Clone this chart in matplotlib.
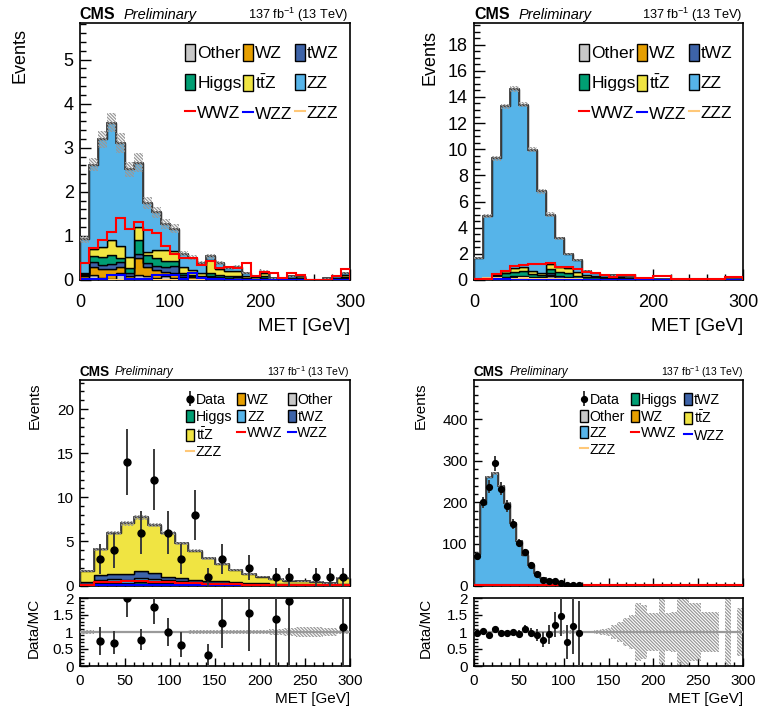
import numpy as np
import matplotlib
matplotlib.use("Agg")
import matplotlib.pyplot as plt
from matplotlib.patches import Patch
from matplotlib.lines import Line2D
from matplotlib.ticker import MultipleLocator, FormatStrFormatter

plt.rcParams['font.family'] = ['Liberation Sans', 'DejaVu Sans']
plt.rcParams['mathtext.fontset'] = 'custom'
plt.rcParams['mathtext.rm'] = 'Liberation Sans'
plt.rcParams['mathtext.it'] = 'Liberation Sans:italic'
plt.rcParams['mathtext.bf'] = 'Liberation Sans:bold'
plt.rcParams['hatch.linewidth'] = 0.9
plt.rcParams['hatch.color'] = '#999999'

# ---------------- data: top-left (10 GeV bins) ----------------
tl_other = [0.00, 0.12, 0.05, 0.03, 0.15, 0.03, 0.12, 0.10, 0.05, 0.10, 0.05, 0.02, 0.01, 0.00, 0.01,
            0.00, 0.00, 0.00, 0.00, 0.00, 0.00, 0.00, 0.00, 0.00, 0.00, 0.00, 0.00, 0.00, 0.00, 0.00]
tl_wz = [0.10, 0.18, 0.20, 0.22, 0.15, 0.07, 0.37, 0.20, 0.18, 0.09, 0.10, 0.05, 0.05, 0.04, 0.05,
         0.04, 0.03, 0.03, 0.02, 0.01, 0.02, 0.00, 0.01, 0.01, 0.02, 0.00, 0.00, 0.00, 0.01, 0.02]
tl_twz = [0.02, 0.10, 0.10, 0.12, 0.10, 0.05, 0.11, 0.08, 0.08, 0.11, 0.17, 0.05, 0.04, 0.03, 0.04,
          0.03, 0.02, 0.03, 0.01, 0.01, 0.03, 0.01, 0.01, 0.01, 0.02, 0.00, 0.00, 0.01, 0.01, 0.02]
tl_higgs = [0.01, 0.15, 0.17, 0.20, 0.10, 0.13, 0.31, 0.19, 0.18, 0.12, 0.10, 0.03, 0.02, 0.02, 0.05,
            0.04, 0.05, 0.04, 0.02, 0.01, 0.05, 0.00, 0.00, 0.01, 0.01, 0.00, 0.00, 0.00, 0.01, 0.02]
tl_ttz = [0.02, 0.15, 0.23, 0.33, 0.28, 0.25, 0.29, 0.07, 0.20, 0.25, 0.24, 0.15, 0.10, 0.06, 0.30,
          0.15, 0.10, 0.10, 0.03, 0.03, 0.05, 0.02, 0.01, 0.02, 0.03, 0.01, 0.01, 0.02, 0.02, 0.06]
tl_zz = [0.77, 1.92, 2.44, 2.67, 2.33, 1.98, 1.46, 1.10, 0.85, 0.60, 0.50, 0.30, 0.29, 0.23, 0.09,
         0.12, 0.08, 0.10, 0.07, 0.04, 0.04, 0.01, 0.02, 0.03, 0.02, 0.00, 0.00, 0.01, 0.03, 0.04]
tl_wwz = [0.39, 0.73, 0.91, 1.10, 1.40, 1.15, 1.32, 1.13, 1.06, 0.76, 0.60, 0.51, 0.49, 0.34, 0.42,
          0.28, 0.30, 0.27, 0.38, 0.08, 0.19, 0.17, 0.05, 0.17, 0.12, 0.01, 0.01, 0.01, 0.09, 0.25]
tl_wzz = [0.03, 0.03, 0.03, 0.11, 0.11, 0.03, 0.03, 0.03, 0.12, 0.12, 0.12, 0.02, 0.17, 0.05, 0.02,
          0.02, 0.01, 0.01, 0.01, 0.00, 0.01, 0.00, 0.00, 0.00, 0.00, 0.00, 0.00, 0.00, 0.00, 0.01]
tl_zzz = [0.01, 0.01, 0.01, 0.01, 0.01, 0.01, 0.01, 0.01, 0.01, 0.01, 0.01, 0.01, 0.01, 0.01, 0.01,
          0.01, 0.01, 0.00, 0.00, 0.00, 0.00, 0.00, 0.00, 0.00, 0.00, 0.00, 0.00, 0.00, 0.00, 0.00]
tl_rel = [0.08, 0.06, 0.06, 0.06, 0.07, 0.07, 0.08, 0.08, 0.08, 0.09, 0.09, 0.10, 0.10, 0.12, 0.10,
          0.12, 0.12, 0.12, 0.15, 0.18, 0.15, 0.25, 0.25, 0.20, 0.20, 0.40, 0.40, 0.30, 0.20, 0.15]

# ---------------- data: top-right (10 GeV bins) ----------------
tr_other = [0.00, 0.01, 0.02, 0.03, 0.03, 0.05, 0.05, 0.04, 0.30, 0.05, 0.03, 0.02, 0.01, 0.01, 0.01,
            0.01, 0.01, 0.00, 0.00, 0.00, 0.00, 0.00, 0.00, 0.00, 0.00, 0.00, 0.00, 0.00, 0.00, 0.00]
tr_wz = [0.08, 0.10, 0.08, 0.10, 0.20, 0.15, 0.10, 0.10, 0.12, 0.10, 0.10, 0.08, 0.05, 0.05, 0.05,
         0.04, 0.04, 0.03, 0.02, 0.02, 0.01, 0.01, 0.01, 0.01, 0.01, 0.01, 0.01, 0.01, 0.01, 0.01]
tr_twz = [0.00, 0.01, 0.05, 0.09, 0.07, 0.07, 0.07, 0.07, 0.10, 0.12, 0.07, 0.04, 0.05, 0.04, 0.04,
          0.05, 0.03, 0.03, 0.02, 0.02, 0.02, 0.01, 0.01, 0.01, 0.01, 0.01, 0.01, 0.01, 0.01, 0.02]
tr_higgs = [0.01, 0.02, 0.18, 0.35, 0.30, 0.40, 0.25, 0.15, 0.30, 0.35, 0.30, 0.20, 0.12, 0.10, 0.08,
            0.08, 0.07, 0.05, 0.03, 0.02, 0.01, 0.01, 0.01, 0.01, 0.01, 0.00, 0.00, 0.00, 0.01, 0.01]
tr_ttz = [0.01, 0.01, 0.05, 0.15, 0.30, 0.30, 0.25, 0.20, 0.40, 0.40, 0.40, 0.30, 0.15, 0.10, 0.07,
          0.07, 0.05, 0.04, 0.03, 0.02, 0.02, 0.02, 0.01, 0.01, 0.01, 0.01, 0.01, 0.01, 0.01, 0.02]
tr_zz = [1.56, 4.75, 8.94, 12.56, 13.70, 12.43, 9.24, 6.21, 3.76, 2.17, 1.09, 0.89, 0.33, 0.21, 0.13,
         0.13, 0.11, 0.07, 0.04, 0.02, 0.03, 0.02, 0.02, 0.02, 0.01, 0.01, 0.01, 0.01, 0.02, 0.03]
tr_wwz = [0.05, 0.10, 0.46, 0.72, 1.07, 1.15, 1.20, 1.20, 1.28, 1.02, 1.02, 0.82, 0.64, 0.51, 0.38,
          0.25, 0.38, 0.38, 0.18, 0.18, 0.28, 0.28, 0.10, 0.10, 0.08, 0.06, 0.06, 0.06, 0.20, 0.25]
tr_wzz = [0.00, 0.05, 0.08, 0.05, 0.03, 0.02, 0.03, 0.02, 0.03, 0.02, 0.02, 0.01, 0.01, 0.01, 0.00,
          0.00, 0.00, 0.00, 0.00, 0.00, 0.00, 0.00, 0.00, 0.00, 0.00, 0.00, 0.00, 0.00, 0.00, 0.00]
tr_zzz = [0.10, 0.15, 0.12, 0.10, 0.10, 0.12, 0.10, 0.08, 0.08, 0.06, 0.05, 0.05, 0.03, 0.03, 0.02,
          0.02, 0.02, 0.01, 0.01, 0.01, 0.01, 0.01, 0.01, 0.01, 0.01, 0.01, 0.01, 0.01, 0.01, 0.01]
tr_rel = [0.04, 0.03, 0.02, 0.015, 0.015, 0.015, 0.02, 0.025, 0.04, 0.04, 0.05, 0.05, 0.08, 0.10, 0.10,
          0.10, 0.10, 0.12, 0.15, 0.15, 0.15, 0.20, 0.20, 0.20, 0.20, 0.25, 0.25, 0.25, 0.20, 0.20]

# ---------------- data: bottom-left (15 GeV bins) ----------------
bl_wz = [0.03, 0.08, 0.10, 0.10, 0.12, 0.10, 0.08, 0.07, 0.05, 0.04,
         0.03, 0.03, 0.02, 0.02, 0.01, 0.01, 0.01, 0.01, 0.00, 0.01]
bl_other = [0.02, 0.05, 0.06, 0.05, 0.07, 0.06, 0.05, 0.04, 0.03, 0.03,
            0.02, 0.02, 0.01, 0.01, 0.01, 0.01, 0.01, 0.00, 0.00, 0.01]
bl_higgs = [0.05, 0.12, 0.14, 0.13, 0.16, 0.14, 0.12, 0.10, 0.08, 0.06,
            0.05, 0.04, 0.03, 0.03, 0.02, 0.02, 0.01, 0.01, 0.01, 0.02]
bl_zz = [0.10, 0.35, 0.45, 0.40, 0.55, 0.42, 0.35, 0.28, 0.22, 0.17,
         0.13, 0.10, 0.06, 0.05, 0.03, 0.03, 0.02, 0.02, 0.01, 0.02]
bl_twz = [0.22, 0.57, 0.61, 0.68, 0.76, 0.72, 0.38, 0.38, 0.30, 0.26,
          0.26, 0.19, 0.18, 0.15, 0.13, 0.10, 0.08, 0.06, 0.04, 0.06]
bl_ttz = [1.21, 2.92, 4.55, 5.69, 6.07, 5.42, 5.00, 3.90, 3.26, 2.51,
          1.90, 1.36, 0.99, 0.72, 0.53, 0.35, 0.36, 0.32, 0.17, 0.75]
bl_wwz = [0.05, 0.45, 0.45, 0.47, 0.53, 0.45, 0.35, 0.30, 0.25, 0.20,
          0.15, 0.12, 0.10, 0.08, 0.06, 0.05, 0.04, 0.03, 0.02, 0.06]
bl_wzz = [0.01, 0.05, 0.06, 0.07, 0.07, 0.06, 0.05, 0.04, 0.03, 0.03,
          0.02, 0.02, 0.01, 0.01, 0.01, 0.01, 0.00, 0.00, 0.00, 0.01]
bl_zzz = [0.01, 0.02, 0.02, 0.02, 0.02, 0.02, 0.01, 0.01, 0.01, 0.01,
          0.01, 0.01, 0.00, 0.00, 0.00, 0.00, 0.00, 0.00, 0.00, 0.00]
bl_data = [0, 3, 4, 14, 6, 12, 6, 3, 8, 1, 3, 0, 2, 0, 1, 1, 0, 1, 1, 1]
bl_rel = [0.05, 0.04, 0.04, 0.04, 0.04, 0.04, 0.04, 0.04, 0.05, 0.05,
          0.05, 0.06, 0.06, 0.07, 0.10, 0.12, 0.15, 0.15, 0.12, 0.05]

# ---------------- data: bottom-right (45 bins) ----------------
br_higgs = [0.1, 0.3, 0.4, 0.4, 0.4, 0.3, 0.3, 0.2, 0.2, 0.15, 0.1, 0.1, 0.08, 0.05, 0.04, 0.03, 0.02, 0.02] + [0.0] * 27
br_twz = [0.02, 0.05, 0.06, 0.06, 0.06, 0.05, 0.04, 0.04, 0.03, 0.03, 0.02, 0.02, 0.02, 0.01, 0.01, 0.01, 0.01, 0.01] + [0.0] * 27
br_other = [0.2, 0.5, 0.6, 0.6, 0.5, 0.4, 0.3, 0.25, 0.2, 0.15, 0.1, 0.08, 0.06, 0.05, 0.04, 0.03, 0.02, 0.02] + [0.0] * 27
br_wz = [0.3, 0.8, 0.9, 0.9, 0.8, 0.6, 0.5, 0.4, 0.3, 0.2, 0.15, 0.1, 0.08, 0.06, 0.05, 0.04, 0.03, 0.02,
         0.02, 0.02, 0.01, 0.01, 0.01, 0.01, 0.01, 0.0, 0.0, 0.0, 0.0, 0.0, 0.0, 0.0, 0.0, 0.0, 0.0, 0.0,
         0.0, 0.0, 0.0, 0.0, 0.0, 0.0, 0.0, 0.0, 0.0]
br_ttz = [0.05, 0.10, 0.15, 0.15, 0.15, 0.15, 0.15, 0.12, 0.12, 0.10, 0.10, 0.08, 0.08, 0.07, 0.06, 0.05, 0.05, 0.04,
          0.04, 0.03, 0.03, 0.03, 0.02, 0.02, 0.02, 0.02, 0.01, 0.01, 0.01, 0.01, 0.01, 0.01, 0.01, 0.01, 0.01, 0.01,
          0.01, 0.01, 0.01, 0.01, 0.01, 0.0, 0.01, 0.0, 0.01]
br_zz = [74.3, 194.3, 259.9, 267.9, 238.1, 196.5, 148.7, 107.0, 73.2, 49.4, 30.5, 17.6, 12.6, 8.8, 3.85, 2.64, 1.57, 0.93,
         0.55, 0.40, 0.30, 0.25, 0.18, 0.12, 0.09, 0.07, 0.05, 0.03, 0.03, 0.03, 0.03, 0.01, 0.02, 0.02, 0.01, 0.01,
         0.02, 0.01, 0.01, 0.01, 0.01, 0.0, 0.01, 0.0, 0.01]
br_wwz = [0.3, 0.8, 1.0, 1.2, 1.2, 1.3, 1.2, 1.1, 1.0, 0.9, 0.8, 0.7, 0.6, 0.5, 0.5, 0.4, 0.4, 0.3,
          0.3, 0.3, 0.25, 0.25, 0.2, 0.2, 0.2, 0.15, 0.15, 0.15, 0.1, 0.1, 0.1, 0.1, 0.1, 0.08, 0.08, 0.08,
          0.06, 0.06, 0.06, 0.05, 0.05, 0.05, 0.05, 0.05, 0.05]
br_wzz = [0.05, 0.1, 0.15, 0.15, 0.15, 0.12, 0.1, 0.08, 0.06, 0.05, 0.04, 0.03, 0.02, 0.02, 0.01, 0.01, 0.01, 0.01] + [0.0] * 27
br_zzz = [0.2, 0.5, 0.6, 0.6, 0.6, 0.5, 0.5, 0.4, 0.4, 0.3, 0.3, 0.25, 0.2, 0.2, 0.15, 0.15, 0.1, 0.1,
          0.1, 0.1, 0.08, 0.08, 0.06, 0.06, 0.05, 0.05, 0.05, 0.04, 0.04, 0.04, 0.03, 0.03, 0.03, 0.03, 0.02, 0.02,
          0.02, 0.02, 0.02, 0.02, 0.02, 0.02, 0.02, 0.02, 0.02]
br_data = [72, 200, 238, 294, 233, 192, 148, 103, 80, 49, 28, 14, 12, 11, 6, 2, 2, 1] + [0] * 27
br_rel = [0.02, 0.015, 0.01, 0.01, 0.01, 0.01, 0.012, 0.015, 0.02, 0.02, 0.025, 0.03, 0.035, 0.04, 0.05, 0.05, 0.05, 0.05,
          0.03, 0.04, 0.06, 0.08, 0.12, 0.20, 0.30, 0.40, 0.50, 0.85, 0.80, 0.55, 0.55, 1.0, 0.55, 0.60, 1.0, 1.0,
          0.85, 0.85, 0.60, 0.60, 0.60, 0.0, 1.0, 0.0, 0.70]

# ---------------- styling ----------------
C_OTHER = '#c8c8c8'
C_WZ = '#e69f00'
C_TWZ = '#3d63a8'
C_HIGGS = '#009e73'
C_TTZ = '#f0e442'
C_ZZ = '#56b4e9'
C_WWZ = '#ff0000'
C_WZZ = '#0000ff'
C_ZZZ = '#ffc878'
HATCH = '\\' * 10
TTZ_LABEL = r'$\mathrm{t\bar{t}Z}$'

W, H = 761, 713
fig = plt.figure(figsize=(W / 100, H / 100), dpi=100)


def fx(px):
    return px / W


def fy(py):
    return 1 - py / H


def add_ax(x0, y0, x1, y1):
    return fig.add_axes([fx(x0), fy(y1), (x1 - x0) / W, (y1 - y0) / H])


def style(ax, xmaj, xmin, ymaj, ymin, size, maj_len, min_len, xpad, xlabels=True):
    ax.xaxis.set_major_locator(MultipleLocator(xmaj))
    ax.xaxis.set_minor_locator(MultipleLocator(xmin))
    ax.yaxis.set_major_locator(MultipleLocator(ymaj))
    ax.yaxis.set_minor_locator(MultipleLocator(ymin))
    ax.tick_params(which='both', direction='in', top=False, right=False, width=1.0,
                   labelsize=size, colors='black')
    ax.tick_params(which='major', length=maj_len)
    ax.tick_params(which='minor', length=min_len)
    ax.tick_params(axis='x', pad=xpad, labelbottom=xlabels)
    ax.tick_params(axis='y', pad=4.5)
    for s in ax.spines.values():
        s.set_linewidth(1.2)


def draw_stack(ax, edges, layers, rel):
    base = np.zeros(len(edges) - 1)
    for vals, col in layers:
        vals = np.asarray(vals, float)
        ax.stairs(base + vals, edges, baseline=base.copy(), fill=True, facecolor=col,
                  edgecolor='black', linewidth=1.0, zorder=2)
        base = base + vals
    ax.stairs(base, edges, baseline=0, color='#404040', linewidth=1.3, zorder=3)
    unc = base * np.asarray(rel)
    ax.stairs(base + unc, edges, baseline=base - unc, fill=True, facecolor='none',
              edgecolor='#999999', hatch=HATCH, linewidth=0, zorder=4)
    return base


def draw_signals(ax, edges, wwz, wzz, zzz):
    ax.stairs(zzz, edges, color=C_ZZZ, linewidth=1.5, zorder=5)
    ax.stairs(wzz, edges, color=C_WZZ, linewidth=1.5, zorder=5)
    ax.stairs(wwz, edges, color=C_WWZ, linewidth=1.5, zorder=5)


def cms_label(x_left, x_pre, x_right, base_y, s_cms, s_pre, s_lumi):
    fig.text(fx(x_left), fy(base_y), 'CMS', weight='bold', size=s_cms, va='baseline', ha='left')
    fig.text(fx(x_pre), fy(base_y), 'Preliminary', style='italic', size=s_pre, va='baseline', ha='left')
    fig.text(fx(x_right), fy(base_y), '137 fb$^{-1}$ (13 TeV)', size=s_lumi, va='baseline', ha='right')


def patch(col):
    return Patch(facecolor=col, edgecolor='black', linewidth=1.0)


def line(col):
    return Line2D([], [], color=col, linewidth=1.5)


def legend(ax, handles, labels, x_px, y_px, size, hl, hh, ls, cs):
    ax.legend(handles, labels, ncol=3, loc='upper left', bbox_to_anchor=(fx(x_px), fy(y_px)),
              bbox_transform=fig.transFigure, frameon=False, fontsize=size, handlelength=hl,
              handleheight=hh, handletextpad=0.12, labelspacing=ls, columnspacing=cs,
              borderpad=0, borderaxespad=0)


def draw_data(ax, centers, data, size=5):
    data = np.asarray(data, float)
    m = data > 0
    cont = ax.errorbar(centers[m], data[m], yerr=np.sqrt(data[m]), fmt='o', color='black',
                       ecolor='#3a3a3a', elinewidth=1.4, markersize=size, capsize=0, zorder=6)
    return cont


def draw_ratio(ax, edges, centers, data, mc, rel, size=5):
    data = np.asarray(data, float)
    rel = np.asarray(rel, float)
    ax.stairs(1 + rel, edges, baseline=1 - rel, fill=True, facecolor='none',
              edgecolor='#999999', hatch=HATCH, linewidth=0, zorder=2)
    ax.axhline(1.0, color='#9a9a9a', linewidth=1.6, zorder=3)
    with np.errstate(divide='ignore', invalid='ignore'):
        r = data / mc
        e = np.sqrt(data) / mc
    m = (data > 0) & (r <= 2.0)
    ax.errorbar(centers[m], r[m], yerr=e[m], fmt='o', color='black', ecolor='#3a3a3a',
                elinewidth=1.4, markersize=size, capsize=0, zorder=6)
    ax.set_xlim(0, 300)
    ax.set_ylim(0, 2)


# ---------------- top-left ----------------
edges10 = np.arange(0, 301, 10)
ax = add_ax(80, 23, 350, 280)
draw_stack(ax, edges10, [(tl_other, C_OTHER), (tl_wz, C_WZ), (tl_twz, C_TWZ),
                         (tl_higgs, C_HIGGS), (tl_ttz, C_TTZ), (tl_zz, C_ZZ)], tl_rel)
draw_signals(ax, edges10, tl_wwz, tl_wzz, tl_zzz)
ax.set_xlim(0, 300)
ax.set_ylim(0, 5.83)
style(ax, 100, 20, 1, 0.2, 13, 8, 4, 10)
top_handles = [patch(C_OTHER), patch(C_HIGGS), line(C_WWZ), patch(C_WZ), patch(C_TTZ), line(C_WZZ),
               patch(C_TWZ), patch(C_ZZ), line(C_ZZZ)]
top_labels = ['Other', 'Higgs', 'WWZ', 'WZ', TTZ_LABEL, 'WZZ', 'tWZ', 'ZZ', 'ZZZ']
legend(ax, top_handles, top_labels, 185, 44, 12.5, 0.58, 1.1, 0.72, 0.1)
cms_label(79.5, 124, 348.5, 19, 11.5, 10.5, 9.2)
fig.text(fx(20), fy(28), 'Events', rotation=90, ha='center', va='top', size=13)
fig.text(fx(350), fy(327), 'MET [GeV]', ha='right', va='center', size=13.5)

# ---------------- top-right ----------------
ax = add_ax(474, 23, 743, 280)
draw_stack(ax, edges10, [(tr_other, C_OTHER), (tr_wz, C_WZ), (tr_twz, C_TWZ),
                         (tr_higgs, C_HIGGS), (tr_ttz, C_TTZ), (tr_zz, C_ZZ)], tr_rel)
draw_signals(ax, edges10, tr_wwz, tr_wzz, tr_zzz)
ax.set_xlim(0, 300)
ax.set_ylim(0, 19.65)
style(ax, 100, 20, 2, 0.5, 13, 8, 4, 10)
legend(ax, top_handles, top_labels, 579, 44, 12.5, 0.58, 1.1, 0.72, 0.1)
cms_label(474.3, 518.5, 743, 19, 11.5, 10.5, 9.2)
fig.text(fx(430), fy(30), 'Events', rotation=90, ha='center', va='top', size=13)
fig.text(fx(743), fy(327), 'MET [GeV]', ha='right', va='center', size=13.5)

# ---------------- bottom-left ----------------
edges15 = np.arange(0, 301, 15)
cent15 = 0.5 * (edges15[1:] + edges15[:-1])
ax = add_ax(80, 380, 350, 585.5)
bl_tot = draw_stack(ax, edges15, [(bl_wz, C_WZ), (bl_other, C_OTHER), (bl_higgs, C_HIGGS),
                                  (bl_zz, C_ZZ), (bl_twz, C_TWZ), (bl_ttz, C_TTZ)], bl_rel)
draw_signals(ax, edges15, bl_wwz, bl_wzz, bl_zzz)
dcont = draw_data(ax, cent15, bl_data)
ax.set_xlim(0, 300)
ax.set_ylim(0, 23.3)
style(ax, 50, 10, 5, 1, 11, 6, 3, 6, xlabels=False)
bl_handles = [dcont, patch(C_HIGGS), patch(C_TTZ), line(C_ZZZ),
              patch(C_WZ), patch(C_ZZ), line(C_WWZ),
              patch(C_OTHER), patch(C_TWZ), line(C_WZZ)]
bl_labels = ['Data', 'Higgs', TTZ_LABEL, 'ZZZ', 'WZ', 'ZZ', 'WWZ', 'Other', 'tWZ', 'WZZ']
legend(ax, bl_handles, bl_labels, 186, 393, 10.2, 0.56, 0.92, 0.18, 0.37)
cms_label(79.5, 115, 349.3, 375.5, 9.8, 8.5, 7.5)
fig.text(fx(35), fy(382), 'Events', rotation=90, ha='center', va='top', size=11)

axr = add_ax(80, 598, 350, 666)
draw_ratio(axr, edges15, cent15, bl_data, bl_tot, bl_rel)
style(axr, 50, 10, 0.5, 0.1, 11, 6, 3, 6)
axr.yaxis.set_major_formatter(FormatStrFormatter('%g'))
fig.text(fx(34), fy(598), 'Data/MC', rotation=90, ha='center', va='top', size=11)
fig.text(fx(350), fy(699), 'MET [GeV]', ha='right', va='center', size=11)

# ---------------- bottom-right ----------------
edges_br = np.linspace(0, 300, 46)
cent_br = 0.5 * (edges_br[1:] + edges_br[:-1])
ax = add_ax(474, 380, 743, 585.5)
br_tot = draw_stack(ax, edges_br, [(br_higgs, C_HIGGS), (br_twz, C_TWZ), (br_other, C_OTHER),
                                   (br_wz, C_WZ), (br_ttz, C_TTZ), (br_zz, C_ZZ)], br_rel)
draw_signals(ax, edges_br, br_wwz, br_wzz, br_zzz)
dcont = draw_data(ax, cent_br, br_data, size=4.2)
ax.set_xlim(0, 300)
ax.set_ylim(0, 495)
style(ax, 50, 10, 100, 20, 11, 6, 3, 6, xlabels=False)
br_handles = [dcont, patch(C_OTHER), patch(C_ZZ), line(C_ZZZ),
              patch(C_HIGGS), patch(C_WZ), line(C_WWZ),
              patch(C_TWZ), patch(C_TTZ), line(C_WZZ)]
br_labels = ['Data', 'Other', 'ZZ', 'ZZZ', 'Higgs', 'WZ', 'WWZ', 'tWZ', TTZ_LABEL, 'WZZ']
legend(ax, br_handles, br_labels, 580, 393, 10.2, 0.56, 0.92, 0.18, 0.45)
cms_label(473.5, 509.5, 743, 375.5, 9.8, 8.5, 7.5)
fig.text(fx(421), fy(382), 'Events', rotation=90, ha='center', va='top', size=11)

axr = add_ax(474, 598, 743, 666)
draw_ratio(axr, edges_br, cent_br, br_data, br_tot, br_rel, size=4.2)
style(axr, 50, 10, 0.5, 0.1, 11, 6, 3, 6)
axr.yaxis.set_major_formatter(FormatStrFormatter('%g'))
fig.text(fx(426), fy(598), 'Data/MC', rotation=90, ha='center', va='top', size=11)
fig.text(fx(743), fy(699), 'MET [GeV]', ha='right', va='center', size=11)

fig.savefig('out.png', dpi=100)
